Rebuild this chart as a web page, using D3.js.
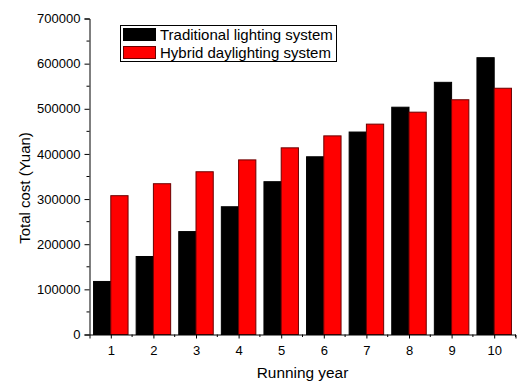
<!DOCTYPE html>
<html>
<head>
<meta charset="utf-8">
<script src="https://cdn.jsdelivr.net/npm/d3@7"></script>
<style>
  body { margin: 0; background: #fff; }
  svg { font-family: Arial, "Liberation Sans", sans-serif; }
  .axis text { font-size: 13px; fill: #000; }
</style>
</head>
<body>
<div id="chart"></div>
<script>
// --- data ---
const years = [1, 2, 3, 4, 5, 6, 7, 8, 9, 10];
const traditional = [117500, 172800, 228000, 283000, 338500, 393700, 448500, 503500, 558600, 613200];
const hybrid = [307500, 334000, 360500, 386800, 413500, 440000, 466000, 492500, 520000, 545500];
const seriesNames = ['Traditional lighting system', 'Hybrid daylighting system'];
const yTicks = [0, 100000, 200000, 300000, 400000, 500000, 600000, 700000];

// --- sizing ---
const W = 518, H = 381;
const margin = { top: 18.5, left: 89.5, right: 2.5, bottom: 46.5 };

const svg = d3.select('#chart').append('svg')
  .attr('width', W)
  .attr('height', H);

const x = d3.scaleLinear()
  .domain([0.5, 10.5])
  .range([margin.left, W - margin.right]);

const y = d3.scaleLinear()
  .domain([0, 700000])
  .range([H - margin.bottom, margin.top]);

const groupW = x(2) - x(1);
const barW = groupW * 0.405;

// --- bars ---
const bars = svg.append('g').attr('class', 'bars');

bars.selectAll('.trad')
  .data(years)
  .enter().append('rect')
  .attr('class', 'trad')
  .attr('x', (d, i) => x(d) - barW)
  .attr('y', (d, i) => y(traditional[i]))
  .attr('width', barW)
  .attr('height', (d, i) => y(0) - y(traditional[i]))
  .attr('fill', '#000')
  .attr('stroke', '#000')
  .attr('stroke-width', 1);

bars.selectAll('.hyb')
  .data(years)
  .enter().append('rect')
  .attr('class', 'hyb')
  .attr('x', d => x(d))
  .attr('y', (d, i) => y(hybrid[i]))
  .attr('width', barW)
  .attr('height', (d, i) => y(0) - y(hybrid[i]))
  .attr('fill', '#ff0000')
  .attr('stroke', '#6b0000')
  .attr('stroke-width', 1);

// --- axes ---
const yAxis = d3.axisLeft(y)
  .tickValues(yTicks)
  .tickFormat(d3.format('d'))
  .tickSizeOuter(0)
  .tickSize(5)
  .tickPadding(4);

const gy = svg.append('g')
  .attr('class', 'axis')
  .attr('transform', `translate(${margin.left},0)`)
  .call(yAxis);
gy.select('.domain').attr('stroke', '#000');

// minor y ticks
const yMinor = d3.range(50000, 700000, 100000);
gy.selectAll('.minor')
  .data(yMinor)
  .enter().append('line')
  .attr('class', 'minor')
  .attr('x1', -3).attr('x2', 0)
  .attr('y1', d => y(d)).attr('y2', d => y(d))
  .attr('stroke', '#000');

const xAxis = d3.axisBottom(x)
  .tickValues(years)
  .tickFormat(d3.format('d'))
  .tickSizeOuter(0)
  .tickSize(4)
  .tickPadding(7);

const gx = svg.append('g')
  .attr('class', 'axis')
  .attr('transform', `translate(0,${y(0)})`)
  .call(xAxis);

// minor x ticks between groups
const xMinor = d3.range(1.5, 11, 1);
gx.selectAll('.minor')
  .data(xMinor)
  .enter().append('line')
  .attr('class', 'minor')
  .attr('x1', d => x(d)).attr('x2', d => x(d))
  .attr('y1', 0).attr('y2', 2.5)
  .attr('stroke', '#000');

// --- axis titles ---
svg.append('text')
  .attr('transform', `translate(30,188) rotate(-90)`)
  .attr('text-anchor', 'middle')
  .style('font-size', '15px')
  .text('Total cost (Yuan)');

svg.append('text')
  .attr('x', x(5.5))
  .attr('y', 378)
  .attr('text-anchor', 'middle')
  .style('font-size', '15.4px')
  .text('Running year');

// --- legend ---
const legend = svg.append('g').attr('class', 'legend');
legend.append('rect')
  .attr('x', 120.5).attr('y', 25.5)
  .attr('width', 216).attr('height', 36)
  .attr('fill', '#fff')
  .attr('stroke', '#000');

const legColors = [['#000', '#000'], ['#ff0000', '#6b0000']];
seriesNames.forEach((name, i) => {
  legend.append('rect')
    .attr('x', 123.5).attr('y', 28.5 + i * 18)
    .attr('width', 32).attr('height', 12)
    .attr('fill', legColors[i][0])
    .attr('stroke', legColors[i][1]);
  legend.append('text')
    .attr('x', 160).attr('y', 40 + i * 18)
    .style('font-size', '15px')
    .text(name);
});
</script>
</body>
</html>
